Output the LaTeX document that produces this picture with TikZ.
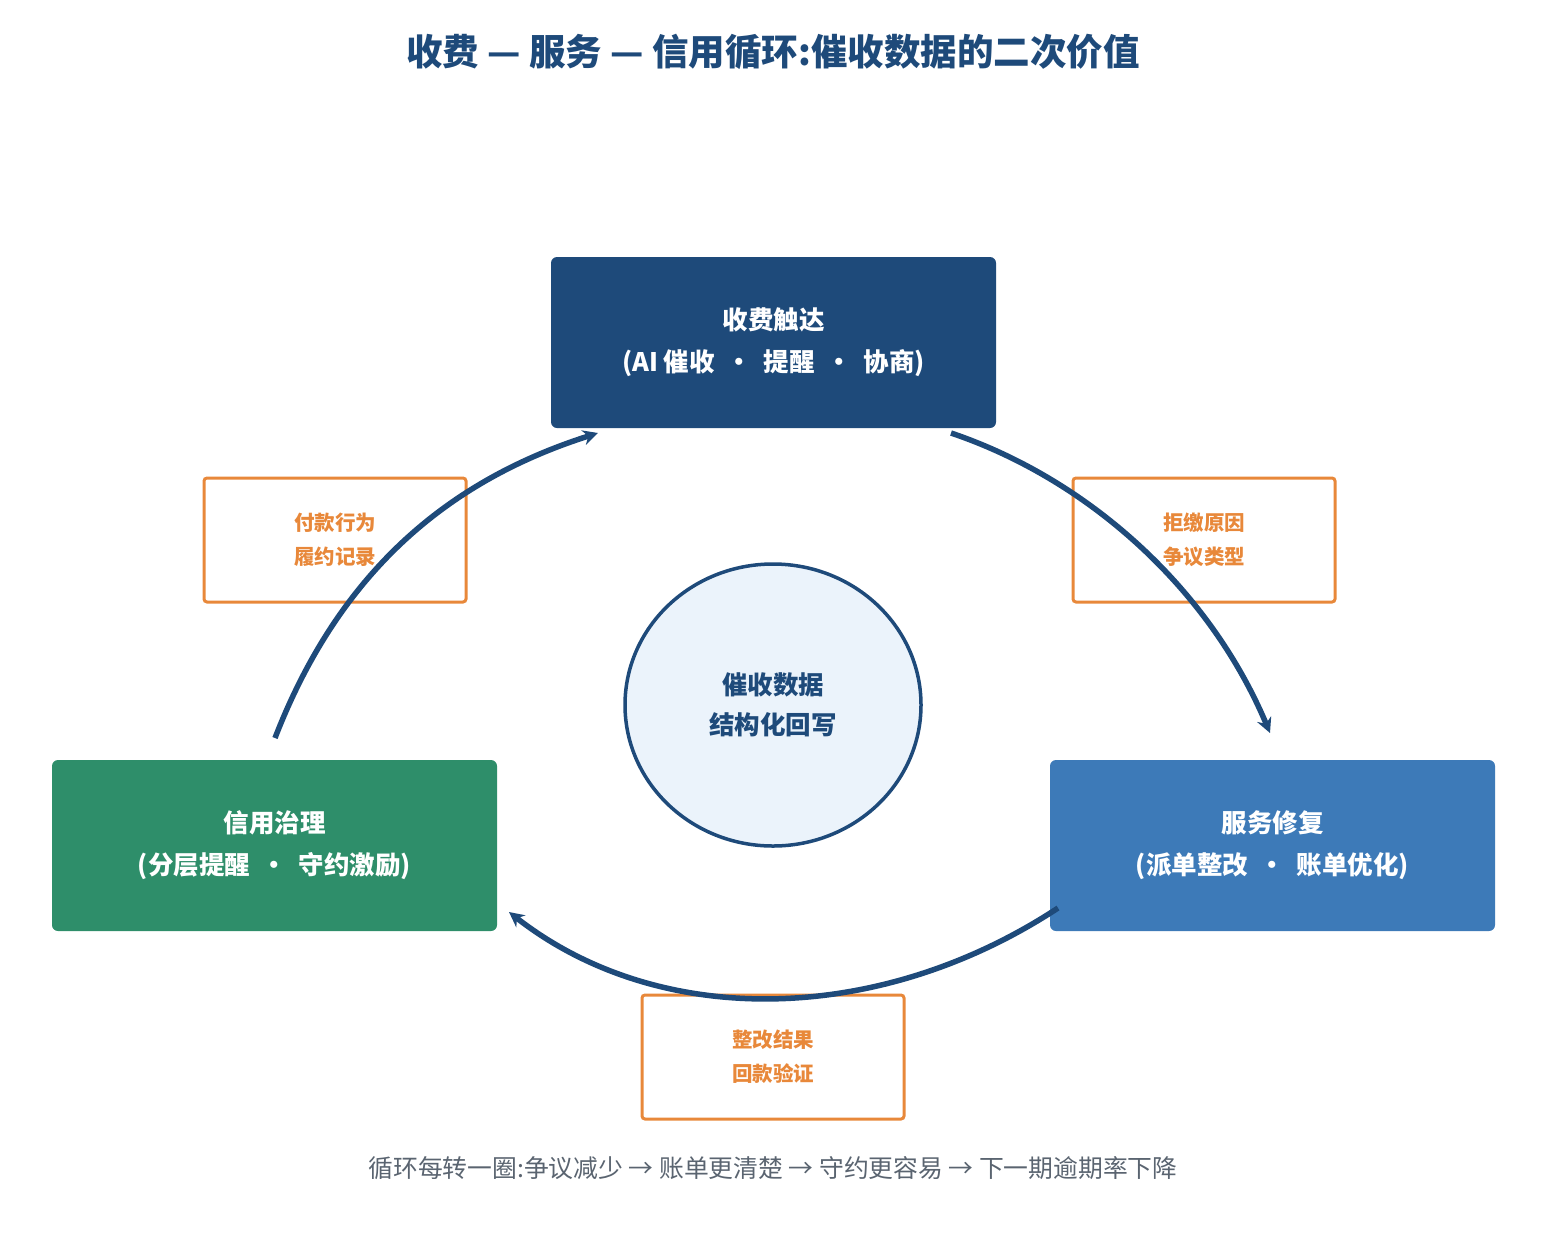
\documentclass[tikz,border=0pt]{standalone}
\usepackage{fontspec}
\setmainfont{Noto Sans CJK SC}
\usetikzlibrary{arrows.meta}
\definecolor{navy}{HTML}{1E4A7A}
\definecolor{grn}{HTML}{2E8E6A}
\definecolor{blu}{HTML}{3D7AB8}
\definecolor{org}{HTML}{E8883A}
\definecolor{lite}{HTML}{EBF3FB}
\definecolor{gry}{HTML}{5A6470}
\begin{document}
\begin{tikzpicture}[x=1pt,y=-1pt,
 main/.style={rounded corners=6pt,minimum width=445pt,minimum height=171pt,text=white,font=\bfseries\fontsize{25.5}{42}\selectfont,align=center},
 tag/.style={draw=org,line width=3pt,rounded corners=3pt,minimum width=262pt,minimum height=124pt,text=org,font=\bfseries\fontsize{20.5}{34}\selectfont,align=center},
 flow/.style={navy,line width=5.5pt,-{Stealth[length=15pt,width=15pt]}}]
\useasboundingbox (0,0) rectangle (1546,1240);
\node[font=\bfseries\fontsize{36.5}{40}\selectfont,text=navy] (title) at (773,52) {收费 — 服务 — 信用循环:催收数据的二次价值};
\node[main,fill=navy] (top) at (773.5,342.5) {收费触达\\(AI 催收 \ • \ 提醒 \ • \ 协商)};
\node[main,fill=grn] (left) at (274.5,845.5) {信用治理\\(分层提醒 \ • \ 守约激励)};
\node[main,fill=blu] (right) at (1272.5,845.5) {服务修复\\(派单整改 \ • \ 账单优化)};
\draw[navy,line width=3.5pt,fill=lite] (773,705) ellipse [x radius=148pt,y radius=141pt];
\node[text=navy,font=\bfseries\fontsize{25.5}{40}\selectfont,align=center] (c) at (773,705) {催收数据\\结构化回写};
\node[tag] (t1) at (335,540) {付款行为\\履约记录};
\node[tag] (t2) at (1204,540) {拒缴原因\\争议类型};
\node[tag] (t3) at (773,1057) {整改结果\\回款验证};
\coordinate (a1) at (275,738); \coordinate (b1) at (598,433);
\coordinate (a2) at (951,433); \coordinate (b2) at (1270,733);
\coordinate (a3) at (1058,908); \coordinate (b3) at (509,912);
\draw[flow] (a1) .. controls (340,570) and (450,480) .. (b1);
\draw[flow] (a2) .. controls (1090,480) and (1210,590) .. (b2);
\draw[flow] (a3) .. controls (880,1025) and (660,1030) .. (b3);
\node[text=gry,font=\fontsize{24.8}{28}\selectfont] (foot) at (773,1168) {循环每转一圈:争议减少 → 账单更清楚 → 守约更容易 → 下一期逾期率下降};
\end{tikzpicture}
\end{document}
